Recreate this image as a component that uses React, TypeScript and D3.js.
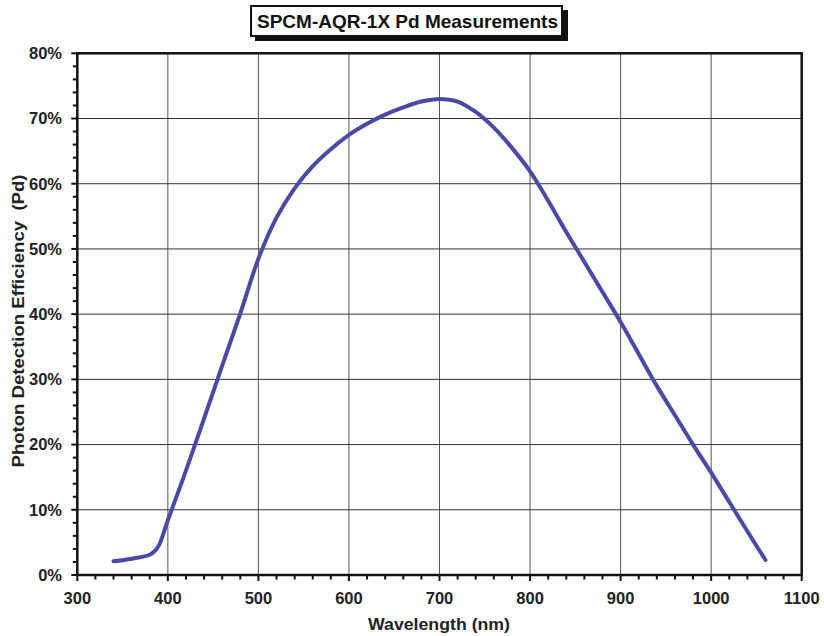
import { useMemo } from 'react';
import * as d3 from 'd3';

// Wavelength (nm) and photon detection efficiency (%)
const WAVELENGTHS = [340, 360, 380, 385, 390, 400, 420, 440, 460, 480, 500, 520, 540, 560, 580, 600, 620, 640, 660, 680, 700, 720, 740, 760, 780, 800, 820, 840, 860, 880, 900, 920, 940, 960, 980, 1000, 1020, 1040, 1060];
const EFFICIENCY = [2.1, 2.5, 3.1, 3.6, 4.5, 8.4, 16.0, 24.0, 32.1, 40.1, 48.5, 54.8, 59.3, 62.7, 65.3, 67.5, 69.2, 70.6, 71.7, 72.6, 73.0, 72.6, 71.0, 68.6, 65.5, 61.9, 57.4, 52.6, 48.0, 43.4, 38.8, 33.9, 29.0, 24.5, 20.0, 15.7, 11.2, 6.7, 2.3];

const X_TICKS = [300, 400, 500, 600, 700, 800, 900, 1000, 1100];
const Y_TICKS = [0, 10, 20, 30, 40, 50, 60, 70, 80];

const TITLE = 'SPCM-AQR-1X Pd Measurements';
const X_LABEL = 'Wavelength (nm)';
const Y_LABEL = 'Photon Detection Efficiency  (Pd)';

const W = 824;
const H = 636;
const FONT = '"Liberation Sans", Arial, Helvetica, sans-serif';

export default function App() {
  const x = d3.scaleLinear().domain([300, 1100]).range([77.3, 801.7]);
  const y = d3.scaleLinear().domain([0, 80]).range([575, 53.3]);

  const points = useMemo(() => WAVELENGTHS.map((w, i) => [w, EFFICIENCY[i]] as [number, number]), []);
  const line = d3.line<[number, number]>()
    .x(d => x(d[0]))
    .y(d => y(d[1]))
    .curve(d3.curveCatmullRom.alpha(0.5));

  const xMinor = d3.range(300, 1101, 20);
  const yMinor = d3.range(0, 81, 2);

  const [x0, x1] = x.range();
  const [y0, y1] = y.range();

  return (
    <div style={{ position: 'absolute', left: 0, top: 0 }}>
      <svg width={W} height={H} style={{ display: 'block', background: '#fff' }} fontFamily={FONT}>
        {/* title box with shadow */}
        <rect x={255} y={10} width={313} height={31} fill="#111" />
        <rect x={251} y={6} width={311} height={30} fill="#fff" stroke="#111" strokeWidth={2} />
        <text x={407.5} y={28} textAnchor="middle" fontSize={18.5} fontWeight="bold" fill="#111"
          textLength={301} lengthAdjust="spacingAndGlyphs">{TITLE}</text>

        {/* grid */}
        {X_TICKS.slice(1, -1).map(t => (
          <line key={'gx' + t} x1={x(t)} x2={x(t)} y1={y1} y2={y0} stroke="#555" strokeWidth={1} />
        ))}
        {Y_TICKS.slice(1, -1).map(t => (
          <line key={'gy' + t} x1={x0} x2={x1} y1={y(t)} y2={y(t)} stroke="#333" strokeWidth={1} />
        ))}

        {/* minor ticks */}
        {yMinor.map(t => (
          <line key={'ym' + t} x1={x0 - (t % 10 === 0 ? 6 : 4.5)} x2={x0} y1={y(t)} y2={y(t)} stroke="#111" strokeWidth={2} />
        ))}
        {xMinor.map(t => (
          <line key={'xm' + t} x1={x(t)} x2={x(t)} y1={y0} y2={y0 + (t % 100 === 0 ? 6 : 4.5)} stroke="#111" strokeWidth={2} />
        ))}

        {/* frame */}
        <rect x={x0} y={y1} width={x1 - x0} height={y0 - y1} fill="none" stroke="#111" strokeWidth={2.5} />

        {/* curve */}
        <path d={line(points) ?? ''} fill="none" stroke="#4a4aa6" strokeWidth={4} strokeLinecap="round" strokeLinejoin="round" />

        {/* tick labels */}
        {Y_TICKS.map(t => (
          <text key={'yl' + t} x={62} y={y(t) + 5.8} textAnchor="end" fontSize={16.5} fontWeight="bold" fill="#222">{t}%</text>
        ))}
        {X_TICKS.map(t => (
          <text key={'xl' + t} x={x(t)} y={604} textAnchor="middle" fontSize={16.5} fontWeight="bold" fill="#222">{t}</text>
        ))}

        {/* axis titles */}
        <text x={439} y={630} textAnchor="middle" fontSize={16} fontWeight="bold" fill="#222"
          textLength={142} lengthAdjust="spacingAndGlyphs">{X_LABEL}</text>
        <text transform={`translate(23.5,321) rotate(-90)`} textAnchor="middle" fontSize={16} fontWeight="bold" fill="#222"
          textLength={293} lengthAdjust="spacingAndGlyphs" style={{ whiteSpace: 'pre' }}>{Y_LABEL}</text>
      </svg>
    </div>
  );
}
